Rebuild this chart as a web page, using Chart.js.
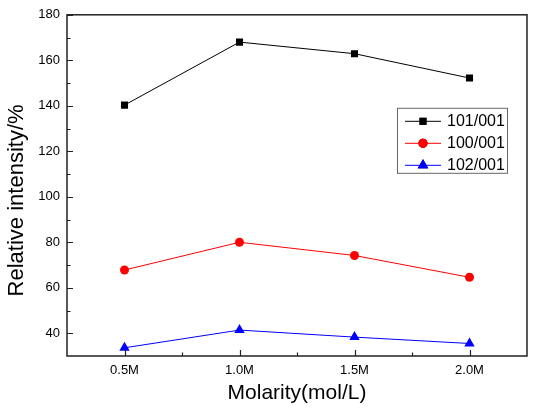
<!DOCTYPE html>
<html>
<head>
<meta charset="utf-8">
<script src="https://cdn.jsdelivr.net/npm/chart.js@4"></script>
<style>
  html, body { margin: 0; padding: 0; background: #fff; }
  #wrap { width: 536px; height: 416px; }
</style>
</head>
<body>
<div id="wrap"><canvas id="molarityChart" width="536" height="416"></canvas></div>
<script>
const molarity = ["0.5M", "1.0M", "1.5M", "2.0M"];
const ratio101 = [140.3, 168.0, 162.9, 152.2];
const ratio100 = [67.8, 80.0, 74.2, 64.6];
const ratio102 = [33.6, 41.4, 38.3, 35.5];
const yTicks = [40, 60, 80, 100, 120, 140, 160, 180];
const yMinorTicks = [50, 70, 90, 110, 130, 150, 170];
const seriesNames = ["101/001", "100/001", "102/001"];

const FONT = "'Liberation Sans', Arial, sans-serif";

// frame, inward ticks, axis titles and the boxed legend
const framePlugin = {
  id: "frame",
  afterDraw(chart) {
    const ctx = chart.ctx;
    const area = chart.chartArea;
    const x = chart.scales.x;
    const y = chart.scales.y;
    ctx.save();
    ctx.strokeStyle = "#222";
    ctx.lineWidth = 1.5;
    ctx.strokeRect(area.left, area.top, area.right - area.left, area.bottom - area.top);

    ctx.lineWidth = 1.2;
    ctx.beginPath();
    yTicks.forEach((v) => {
      const py = Math.round(y.getPixelForValue(v)) + 0.5;
      ctx.moveTo(area.left, py);
      ctx.lineTo(area.left + 6, py);
    });
    yMinorTicks.forEach((v) => {
      const py = Math.round(y.getPixelForValue(v)) + 0.5;
      ctx.moveTo(area.left, py);
      ctx.lineTo(area.left + 3.5, py);
    });
    molarity.forEach((m, i) => {
      const px = Math.round(x.getPixelForValue(i)) + 0.5;
      ctx.moveTo(px, area.bottom);
      ctx.lineTo(px, area.bottom - 6);
      if (i < molarity.length - 1) {
        const mx = Math.round((x.getPixelForValue(i) + x.getPixelForValue(i + 1)) / 2) + 0.5;
        ctx.moveTo(mx, area.bottom);
        ctx.lineTo(mx, area.bottom - 3.5);
      }
    });
    ctx.stroke();

    // axis titles
    ctx.fillStyle = "#000";
    ctx.textAlign = "center";
    ctx.textBaseline = "middle";
    ctx.font = "21px " + FONT;
    ctx.fillText("Molarity(mol/L)", (area.left + area.right) / 2, 393);
    ctx.save();
    ctx.translate(17, (area.top + area.bottom) / 2 + 15);
    ctx.rotate(-Math.PI / 2);
    ctx.font = "22px " + FONT;
    ctx.fillText("Relative intensity/%", 0, 0);
    ctx.restore();

    // legend box
    const bx = area.right - 130;
    const by = area.top + 93;
    ctx.fillStyle = "#fff";
    ctx.fillRect(bx, by, 110, 65);
    ctx.strokeStyle = "#666";
    ctx.lineWidth = 1;
    ctx.strokeRect(bx + 0.5, by + 0.5, 110, 65);
    ctx.font = "16px " + FONT;
    ctx.textAlign = "left";
    chart.data.datasets.forEach((ds, i) => {
      const ry = by + 13 + i * 22;
      ctx.strokeStyle = ds.borderColor;
      ctx.lineWidth = 1;
      ctx.beginPath();
      ctx.moveTo(bx + 8, ry + 0.5);
      ctx.lineTo(bx + 44, ry + 0.5);
      ctx.stroke();
      Chart.helpers.drawPoint(ctx, {
        pointStyle: ds.pointStyle,
        radius: ds.pointRadius,
        borderWidth: 0
      }, bx + 26, ry + 0.5);
      ctx.fillStyle = ds.pointBackgroundColor;
      Chart.helpers.drawPoint(ctx, {
        pointStyle: ds.pointStyle,
        radius: ds.pointRadius,
        borderWidth: 0
      }, bx + 26, ry + 0.5);
      ctx.fill();
      ctx.fillStyle = "#000";
      ctx.fillText(seriesNames[i], bx + 50, ry + 1);
    });
    ctx.restore();
  }
};

const ctx = document.getElementById("molarityChart").getContext("2d");
new Chart(ctx, {
  type: "line",
  data: {
    labels: molarity,
    datasets: [
      {
        label: seriesNames[0],
        data: ratio101,
        borderColor: "#000000",
        backgroundColor: "#000000",
        pointBackgroundColor: "#000000",
        pointBorderWidth: 0,
        pointStyle: "rect",
        pointRadius: 5,
        borderWidth: 1
      },
      {
        label: seriesNames[1],
        data: ratio100,
        borderColor: "#ff0000",
        backgroundColor: "#ff0000",
        pointBackgroundColor: "#ff0000",
        pointBorderWidth: 0,
        pointStyle: "circle",
        pointRadius: 4.5,
        borderWidth: 1
      },
      {
        label: seriesNames[2],
        data: ratio102,
        borderColor: "#0000ff",
        backgroundColor: "#0000ff",
        pointBackgroundColor: "#0000ff",
        pointBorderWidth: 0,
        pointStyle: "triangle",
        pointRadius: 6,
        borderWidth: 1
      }
    ]
  },
  options: {
    responsive: false,
    animation: false,
    layout: {
      padding: { top: 13, right: 9, left: 0, bottom: 0 }
    },
    plugins: {
      legend: { display: false },
      tooltip: { enabled: false }
    },
    scales: {
      x: {
        type: "category",
        offset: true,
        grid: { display: false, drawTicks: false },
        border: { display: false },
        ticks: {
          color: "#000",
          padding: 7,
          font: { family: FONT, size: 13 }
        },
        afterFit(scale) {
          scale.height = 60;
        }
      },
      y: {
        min: 30,
        max: 180,
        grid: { display: false, drawTicks: false },
        border: { display: false },
        afterBuildTicks(scale) {
          scale.ticks = yTicks.map((v) => ({ value: v }));
        },
        ticks: {
          color: "#000",
          padding: 7,
          font: { family: FONT, size: 13 }
        },
        afterFit(scale) {
          scale.width = 67;
        }
      }
    }
  },
  plugins: [framePlugin]
});
</script>
</body>
</html>
